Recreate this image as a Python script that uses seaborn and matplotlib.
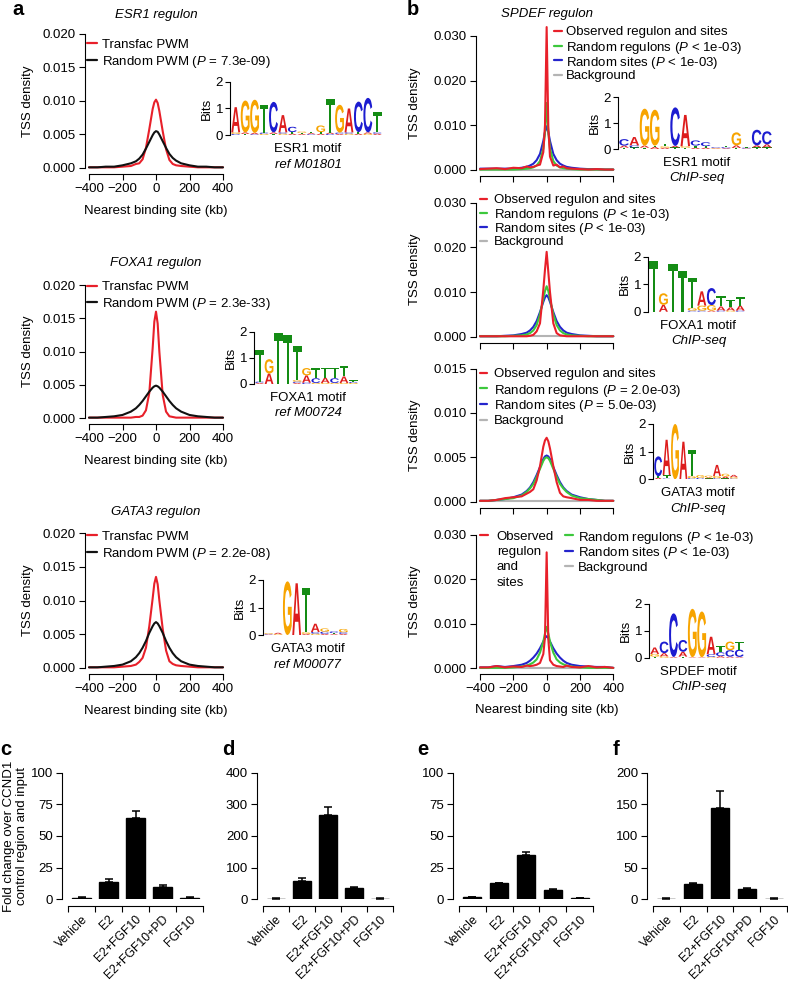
import numpy as np
import pandas as pd
import matplotlib
matplotlib.use('Agg')
import matplotlib.pyplot as plt
import seaborn as sns
from matplotlib.textpath import TextPath
from matplotlib.patches import PathPatch
from matplotlib.font_manager import FontProperties
from matplotlib.lines import Line2D
import matplotlib.transforms as mtransforms

sns.set_style('ticks')
FONT = 'Liberation Sans'
plt.rcParams['font.family'] = [FONT, 'DejaVu Sans']
plt.rcParams['mathtext.fontset'] = 'custom'
plt.rcParams['mathtext.rm'] = FONT
plt.rcParams['mathtext.it'] = FONT + ':italic'
plt.rcParams['font.size'] = 9.5
for k in ['text.color', 'axes.labelcolor', 'xtick.color', 'ytick.color', 'axes.edgecolor']:
    plt.rcParams[k] = 'black'
plt.rcParams['axes.linewidth'] = 0.8

# ---------------- data ----------------
KB = [-400, -350, -300, -250, -200, -150, -120, -100, -80, -60, -40, -20, -10, 0,
      10, 20, 40, 60, 80, 100, 120, 150, 200, 250, 300, 350, 400]

# panel a: Transfac PWM (red) vs Random PWM (black)
ESR1_TRANSFAC = [0.0001, 0.0001, 0.0001, 0.0001, 0.0002, 0.0003, 0.0006, 0.0007, 0.0013, 0.0030, 0.0058, 0.0088, 0.0098, 0.0102,
                 0.0097, 0.0085, 0.0055, 0.0028, 0.0012, 0.0006, 0.0004, 0.0003, 0.0002, 0.0001, 0.0001, 0.0001, 0.0001]
ESR1_RANDOM = [0.0001, 0.0001, 0.0002, 0.0002, 0.0004, 0.0007, 0.0010, 0.0014, 0.0020, 0.0029, 0.0039, 0.0049, 0.0053, 0.0055,
               0.0054, 0.0050, 0.0040, 0.0030, 0.0021, 0.0015, 0.0011, 0.0007, 0.0004, 0.0002, 0.0002, 0.0001, 0.0001]
FOXA1_TRANSFAC = [0.0001, 0.0001, 0.0001, 0.0001, 0.0001, 0.0001, 0.0002, 0.0002, 0.0004, 0.0012, 0.0038, 0.0105, 0.0145, 0.0160,
                  0.0142, 0.0100, 0.0035, 0.0010, 0.0003, 0.0002, 0.0001, 0.0001, 0.0001, 0.0001, 0.0001, 0.0001, 0.0001]
FOXA1_RANDOM = [0.0001, 0.0001, 0.0002, 0.0003, 0.0005, 0.0010, 0.0015, 0.0020, 0.0026, 0.0033, 0.0040, 0.0046, 0.0048, 0.0049,
                0.0048, 0.0046, 0.0040, 0.0033, 0.0026, 0.0020, 0.0015, 0.0010, 0.0005, 0.0003, 0.0002, 0.0001, 0.0001]
GATA3_TRANSFAC = [0.0001, 0.0001, 0.0001, 0.0001, 0.0002, 0.0003, 0.0005, 0.0009, 0.0015, 0.0030, 0.0062, 0.0103, 0.0125, 0.0135,
                  0.0124, 0.0100, 0.0058, 0.0026, 0.0010, 0.0006, 0.0004, 0.0003, 0.0002, 0.0001, 0.0001, 0.0001, 0.0001]
GATA3_RANDOM = [0.0001, 0.0001, 0.0002, 0.0003, 0.0005, 0.0010, 0.0016, 0.0022, 0.0030, 0.0040, 0.0052, 0.0062, 0.0066, 0.0068,
                0.0066, 0.0062, 0.0052, 0.0040, 0.0030, 0.0022, 0.0016, 0.0010, 0.0005, 0.0003, 0.0002, 0.0001, 0.0001]

# panel b: observed (red), random regulons (green), random sites (blue), background (gray)
B1_OBS = [0.0002, 0.0003, 0.0004, 0.0002, 0.0005, 0.0004, 0.0008, 0.0006, 0.0007, 0.0010, 0.0012, 0.0040, 0.0100, 0.0320,
          0.0095, 0.0030, 0.0010, 0.0012, 0.0006, 0.0008, 0.0004, 0.0003, 0.0002, 0.0001, 0.0002, 0.0001, 0.0001]
B1_REG = [0.0001, 0.0001, 0.0001, 0.0001, 0.0001, 0.0002, 0.0003, 0.0004, 0.0006, 0.0010, 0.0020, 0.0048, 0.0085, 0.0150,
          0.0085, 0.0048, 0.0020, 0.0010, 0.0006, 0.0004, 0.0003, 0.0002, 0.0001, 0.0001, 0.0001, 0.0001, 0.0001]
B1_SITES = [0.0003, 0.0003, 0.0003, 0.0003, 0.0003, 0.0005, 0.0007, 0.0010, 0.0014, 0.0022, 0.0036, 0.0065, 0.0085, 0.0098,
            0.0085, 0.0065, 0.0036, 0.0022, 0.0014, 0.0010, 0.0007, 0.0005, 0.0003, 0.0002, 0.0002, 0.0001, 0.0001]
B2_OBS = [0.0001, 0.0001, 0.0001, 0.0001, 0.0001, 0.0001, 0.0001, 0.0002, 0.0004, 0.0012, 0.0030, 0.0105, 0.0150, 0.0190,
          0.0145, 0.0100, 0.0030, 0.0008, 0.0003, 0.0002, 0.0001, 0.0001, 0.0001, 0.0001, 0.0001, 0.0001, 0.0001]
B2_REG = [0.0001, 0.0001, 0.0001, 0.0001, 0.0002, 0.0003, 0.0005, 0.0008, 0.0014, 0.0026, 0.0050, 0.0085, 0.0102, 0.0113,
          0.0102, 0.0085, 0.0050, 0.0026, 0.0014, 0.0008, 0.0005, 0.0003, 0.0002, 0.0001, 0.0001, 0.0001, 0.0001]
B2_SITES = [0.0001, 0.0001, 0.0001, 0.0002, 0.0003, 0.0006, 0.0009, 0.0014, 0.0022, 0.0035, 0.0055, 0.0078, 0.0088, 0.0093,
            0.0088, 0.0078, 0.0055, 0.0035, 0.0022, 0.0014, 0.0009, 0.0006, 0.0003, 0.0002, 0.0001, 0.0001, 0.0001]
B3_OBS = [0.0001, 0.0001, 0.0002, 0.0004, 0.0005, 0.0006, 0.0009, 0.0011, 0.0014, 0.0024, 0.0040, 0.0062, 0.0069, 0.0072,
          0.0068, 0.0060, 0.0040, 0.0022, 0.0010, 0.0006, 0.0005, 0.0004, 0.0002, 0.0002, 0.0001, 0.0001, 0.0001]
B3_REG = [0.0001, 0.0001, 0.0002, 0.0003, 0.0004, 0.0007, 0.0011, 0.0015, 0.0020, 0.0028, 0.0037, 0.0046, 0.0049, 0.0050,
          0.0049, 0.0046, 0.0037, 0.0028, 0.0020, 0.0015, 0.0011, 0.0007, 0.0004, 0.0003, 0.0002, 0.0001, 0.0001]
B3_SITES = [0.0001, 0.0001, 0.0002, 0.0003, 0.0005, 0.0008, 0.0012, 0.0016, 0.0022, 0.0030, 0.0039, 0.0048, 0.0051, 0.0052,
            0.0051, 0.0048, 0.0039, 0.0030, 0.0022, 0.0016, 0.0012, 0.0008, 0.0005, 0.0003, 0.0002, 0.0001, 0.0001]
B4_OBS = [0.0002, 0.0002, 0.0005, 0.0002, 0.0004, 0.0003, 0.0006, 0.0005, 0.0006, 0.0008, 0.0012, 0.0032, 0.0070, 0.0260,
          0.0065, 0.0018, 0.0008, 0.0005, 0.0004, 0.0003, 0.0006, 0.0003, 0.0002, 0.0005, 0.0002, 0.0003, 0.0001]
B4_REG = [0.0001, 0.0001, 0.0001, 0.0001, 0.0002, 0.0004, 0.0006, 0.0009, 0.0013, 0.0020, 0.0035, 0.0060, 0.0078, 0.0093,
          0.0078, 0.0060, 0.0035, 0.0020, 0.0013, 0.0009, 0.0006, 0.0004, 0.0002, 0.0001, 0.0001, 0.0001, 0.0001]
B4_SITES = [0.0002, 0.0002, 0.0005, 0.0003, 0.0005, 0.0008, 0.0012, 0.0017, 0.0024, 0.0033, 0.0045, 0.0060, 0.0068, 0.0072,
            0.0068, 0.0060, 0.0045, 0.0033, 0.0024, 0.0017, 0.0012, 0.0008, 0.0005, 0.0004, 0.0003, 0.0003, 0.0001]
BACKGROUND = [0.00005] * 27

# sequence logos: per position, (letter, bits) stacked bottom to top
LOGO_ESR1_REF = [
    [('C', .04), ('G', .06), ('A', .95)], [('T', .04), ('A', .06), ('G', 1.2)], [('C', .03), ('A', .05), ('G', 1.25)],
    [('G', .04), ('C', .05), ('T', 1.05)], [('T', .04), ('A', .06), ('C', 1.15)], [('G', .05), ('C', .05), ('A', .65)],
    [('A', .05), ('T', .06), ('C', .2)], [('A', .04), ('T', .04), ('G', .05)], [('C', .03), ('A', .04), ('T', .05)],
    [('A', .05), ('T', .06), ('G', .25)], [('C', .04), ('A', .05), ('T', 1.25)], [('A', .04), ('C', .05), ('G', 1.05)],
    [('G', .05), ('C', .05), ('A', .9)], [('A', .05), ('T', .06), ('C', 1.15)], [('G', .05), ('A', .05), ('C', 1.3)],
    [('A', .05), ('C', .05), ('T', .75)]]
LOGO_FOXA1_REF = [
    [('A', .04), ('C', .05), ('T', 1.2)], [('A', .4), ('G', .55)], [('T', 1.95)], [('T', 1.88)],
    [('A', .04), ('C', .05), ('G', .06), ('T', 1.3)], [('C', .05), ('A', .28), ('G', .28)],
    [('G', .04), ('C', .18), ('T', .38)], [('G', .04), ('A', .2), ('T', .38)], [('G', .04), ('C', .18), ('T', .4)],
    [('G', .04), ('A', .25), ('T', .38)], [('G', .04), ('C', .04), ('T', .06)]]
LOGO_GATA3_REF = [
    [('A', .02), ('C', .02), ('G', .03)], [('G', .03), ('A', .05)], [('G', 1.95)], [('A', 1.88)],
    [('A', .04), ('G', .06), ('T', 1.6)], [('G', .05), ('C', .06), ('A', .3)], [('A', .04), ('C', .08), ('G', .12)],
    [('A', .03), ('T', .04), ('C', .06)], [('A', .04), ('C', .06), ('G', .12)]]
LOGO_ESR1_CHIP = [
    [('T', .05), ('A', .08), ('C', .25)], [('T', .06), ('C', .08), ('A', .32)], [('T', .05), ('A', .08), ('G', 1.42)],
    [('A', .08), ('T', .05), ('G', 1.38)], [('A', .05), ('G', .05), ('T', .1)], [('T', .06), ('A', .06), ('C', 1.48)],
    [('T', .05), ('G', .06), ('A', 1.2)], [('A', .05), ('T', .08), ('C', .2)], [('A', .05), ('T', .06), ('C', .15)],
    [('A', .02), ('G', .02), ('C', .03)], [('A', .03), ('C', .04), ('T', .06)], [('T', .04), ('A', .1), ('G', .5)],
    [('A', .02), ('C', .03), ('T', .03)], [('T', .06), ('A', .08), ('C', .6)], [('T', .06), ('A', .12), ('C', .5)]]
LOGO_FOXA1_CHIP = [
    [('T', 1.85)], [('A', .25), ('G', .42)], [('T', 1.75)], [('T', 1.48)], [('C', .04), ('G', .1), ('T', 1.1)],
    [('C', .04), ('G', .18), ('A', .52)], [('A', .04), ('G', .2), ('C', .62)], [('C', .04), ('A', .15), ('T', .38)],
    [('G', .04), ('A', .12), ('T', .28)], [('C', .04), ('A', .18), ('T', .3)]]
LOGO_GATA3_CHIP = [
    [('A', .06), ('T', .05), ('C', .72)], [('C', .03), ('T', .12), ('A', 1.28)], [('G', 2.0)], [('A', 1.36)],
    [('C', .04), ('G', .08), ('T', .95)], [('C', .05), ('G', .1)], [('T', .03), ('A', .04), ('G', .06)],
    [('C', .04), ('G', .08), ('A', .4)], [('T', .03), ('A', .07), ('G', .1)], [('C', .03), ('G', .05), ('A', .08)]]
LOGO_SPDEF_CHIP = [
    [('T', .04), ('G', .1), ('A', .24)], [('G', .05), ('A', .12), ('C', .43)], [('A', .03), ('C', 1.62)],
    [('T', .04), ('A', .18), ('C', .44)], [('A', .02), ('G', 1.8)], [('A', .02), ('G', 1.7)],
    [('G', .03), ('C', .1), ('A', .65)], [('A', .06), ('C', .14), ('T', .22)], [('A', .04), ('C', .24), ('G', .32)],
    [('A', .03), ('C', .27), ('T', .3)]]

# bar charts c-f
CONDS = ['Vehicle', 'E2', 'E2+FGF10', 'E2+FGF10+PD', 'FGF10']
C_MEAN = [1.0, 14.0, 64.0, 10.0, 1.2]
C_ERR = [0.5, 1.9, 5.7, 1.1, 0.9]
D_MEAN = [2.0, 59.0, 266.0, 35.0, 2.0]
D_ERR = [1.0, 7.0, 27.0, 4.0, 1.0]
E_MEAN = [1.5, 12.6, 35.2, 7.0, 1.0]
E_ERR = [0.5, 0.5, 2.4, 1.5, 0.3]
F_MEAN = [1.0, 23.7, 144.5, 15.8, 1.0]
F_ERR = [0.5, 2.6, 26.0, 2.5, 0.5]

RED, BLACK, GREEN, BLUE, GRAY = '#e8202a', '#111111', '#3cc83c', '#2424cc', '#b4b4b4'
LOGO_COL = {'A': '#dd1c1c', 'C': '#1c1cd0', 'G': '#f7a400', 'T': '#148c14'}

# ---------------- layout helpers ----------------
W, H = 788, 985
fig = plt.figure(figsize=(W / 100, H / 100), dpi=100)


def fx(x):
    return x / W


def fy(y):
    return 1 - y / H


def axes_px(x0, x1, ybot, ytop):
    return fig.add_axes([fx(x0), fy(ybot), (x1 - x0) / W, (ybot - ytop) / H])


def ftext(x, y, s, **kw):
    kw.setdefault('va', 'center')
    kw.setdefault('ha', 'center')
    return fig.text(fx(x), fy(y), s, **kw)


def legend_row(xl0, xl1, xt, y, color, label):
    fig.add_artist(Line2D([fx(xl0), fx(xl1)], [fy(y), fy(y)], transform=fig.transFigure,
                          color=color, lw=1.6))
    ftext(xt, y, label, ha='left', va='center_baseline')


PX2PT = 0.72


def density_panel(x0, x1, y0, ytop_px, ytop, ylim_top, curves, colors, yticks, show_xlabels):
    pp = (y0 - ytop_px) / ytop
    ax = axes_px(x0, x1, y0, y0 - ylim_top * pp)
    frames = [pd.DataFrame({'kb': KB, 'density': vals, 'series': name}) for name, vals in curves]
    df = pd.concat(frames, ignore_index=True)
    order = [name for name, _ in curves]
    sns.lineplot(data=df, x='kb', y='density', hue='series', hue_order=order, palette=colors,
                 estimator=None, sort=False, legend=False, linewidth=1.5, ax=ax, clip_on=False)
    ax.set_xlim(-400, 400)
    ax.set_ylim(0, ylim_top)
    for s in ['top', 'right']:
        ax.spines[s].set_visible(False)
    ax.spines['left'].set_position(('outward', 4 * PX2PT))
    ax.spines['bottom'].set_position(('outward', 6 * PX2PT))
    ax.spines['left'].set_bounds(0, ytop)
    ax.spines['bottom'].set_bounds(-400, 400)
    ax.set_xticks([-400, -200, 0, 200, 400])
    if show_xlabels:
        ax.set_xticklabels(['\u2212400', '\u2212200', '0', '200', '400'])
    else:
        ax.set_xticklabels([])
    ax.set_yticks(yticks)
    ax.set_yticklabels(['%.3f' % t for t in yticks])
    ax.tick_params(axis='both', length=4.5, width=0.8, pad=2, labelsize=9.5)
    ax.set_xlabel('')
    ax.set_ylabel('')
    return ax


def draw_letter(ax, ch, x, y, w, h):
    fp = FontProperties(family=FONT, weight='bold')
    tp = TextPath((0, 0), ch, size=1, prop=fp)
    bb = tp.get_extents()
    tr = mtransforms.Affine2D().translate(-bb.x0, -bb.y0).scale(w / bb.width, h / bb.height).translate(x, y)
    ax.add_patch(PathPatch(tr.transform_path(tp), fc=LOGO_COL[ch], ec='none', lw=0))


def logo_panel(x_spine, x_end, y0, y2, stacks, label1, label2):
    n = len(stacks)
    ax = axes_px(x_spine + 1, x_end, y0, y2)
    ax.set_xlim(0, n)
    ax.set_ylim(0, 2)
    for i, stack in enumerate(stacks):
        base = 0.0
        for ch, h in stack:
            draw_letter(ax, ch, i + 0.03, base, 0.94, h)
            base += h
    for s in ['top', 'right', 'bottom']:
        ax.spines[s].set_visible(False)
    ax.spines['left'].set_position(('outward', 1 * PX2PT))
    ax.set_xticks([])
    ax.set_yticks([0, 1, 2])
    ax.set_yticklabels(['0', '1', '2'])
    ax.tick_params(axis='y', length=3.5, width=0.8, pad=1.5, labelsize=9.5)
    ax.set_ylabel('Bits', labelpad=2, fontsize=9.5)
    xc = (x_spine + x_end) / 2 + 2
    ftext(xc, y0 + 14, label1)
    ftext(xc, y0 + 29.5, label2, style='italic')
    return ax


def bar_panel(x0, x1, y0, ytop_px, ytop, yticks, means, errs):
    ax = axes_px(x0, x1, y0, ytop_px)
    df = pd.DataFrame({'cond': CONDS, 'value': means})
    sns.barplot(data=df, x='cond', y='value', color='black', width=0.67, errorbar=None,
                saturation=1, edgecolor='black', ax=ax)
    centers = [p.get_x() + p.get_width() / 2 for p in ax.patches]
    ax.errorbar(centers, means, yerr=[np.zeros(len(means)), errs], fmt='none', ecolor='black',
                elinewidth=1.1, capsize=3, capthick=1.1, zorder=3)
    ax.set_xlim(-0.5, 4.5)
    ax.set_ylim(0, ytop)
    for s in ['top', 'right']:
        ax.spines[s].set_visible(False)
    ax.spines['left'].set_position(('outward', 6 * PX2PT))
    ax.spines['bottom'].set_position(('outward', 7 * PX2PT))
    ax.spines['bottom'].set_bounds(-0.5, 4.5)
    ax.set_yticks(yticks)
    ax.set_yticklabels([str(t) for t in yticks])
    ax.set_xticks(range(len(CONDS)))
    ax.set_xticklabels(CONDS, rotation=45, ha='right', rotation_mode='anchor', va='top')
    ax.set_xticks(np.arange(-0.5, len(CONDS)), minor=True)
    ax.tick_params(axis='x', which='major', length=0, pad=5, labelsize=8.8)
    ax.tick_params(axis='x', which='minor', length=4.5, width=0.8)
    ax.tick_params(axis='y', length=4.5, width=0.8, pad=2, labelsize=9.5)
    ax.set_xlabel('')
    ax.set_ylabel('')
    return ax


A_COLORS = {'Transfac PWM': RED, 'Random PWM': BLACK}
B_COLORS = {'Background': GRAY, 'Random sites': BLUE, 'Random regulons': GREEN, 'Observed': RED}
A_TICKS = [0, 0.005, 0.010, 0.015, 0.020]

# ---------------- panel a ----------------
a_specs = [
    (168, 34, 'ESR1 regulon', 15, ESR1_TRANSFAC, ESR1_RANDOM, '7.3e-09', 43, 60,
     LOGO_ESR1_REF, 230, 382, 135, 82, 'ESR1 motif', 'ref M01801'),
    (418.3, 285, 'FOXA1 regulon', 263, FOXA1_TRANSFAC, FOXA1_RANDOM, '2.3e-33', 285.7, 301.7,
     LOGO_FOXA1_REF, 254, 358, 384, 331.7, 'FOXA1 motif', 'ref M00724'),
    (668, 533, 'GATA3 regulon', 512, GATA3_TRANSFAC, GATA3_RANDOM, '2.2e-08', 535, 551.7,
     LOGO_GATA3_REF, 263, 348, 635, 580, 'GATA3 motif', 'ref M00077'),
]
for (y0, y20, title, ytitle, red, black, pval, r1, r2, logo, lx0, lx1, ly0, ly2, l1, l2) in a_specs:
    density_panel(89, 223, y0, y20, 0.020, 0.0205,
                  [('Transfac PWM', red), ('Random PWM', black)], A_COLORS, A_TICKS, True)
    ftext(156, ytitle, title, style='italic')
    ftext(28, (y0 + y20) / 2, 'TSS density', rotation=90)
    ftext(156, y0 + 43, 'Nearest binding site (kb)')
    legend_row(87, 97, 101.7, r1, RED, 'Transfac PWM')
    legend_row(87, 97, 101.7, r2, BLACK, 'Random PWM ($P$ = %s)' % pval)
    logo_panel(lx0, lx1, ly0, ly2, logo, l1, l2)

# ---------------- panel b ----------------
TICKS_030 = [0, 0.010, 0.020, 0.030]
TICKS_015 = [0, 0.005, 0.010, 0.015]
b_specs = [
    (170, 36, 0.030, 0.0335, TICKS_030, B1_OBS, B1_REG, B1_SITES, LOGO_ESR1_CHIP, 618, 772, 149, 97, 'ESR1 motif'),
    (336.7, 202.7, 0.030, 0.031, TICKS_030, B2_OBS, B2_REG, B2_SITES, LOGO_FOXA1_CHIP, 648, 745, 311.7, 256.7, 'FOXA1 motif'),
    (501.7, 368.5, 0.015, 0.0155, TICKS_015, B3_OBS, B3_REG, B3_SITES, LOGO_GATA3_CHIP, 653, 738, 479.3, 424, 'GATA3 motif'),
    (668.3, 534.5, 0.030, 0.031, TICKS_030, B4_OBS, B4_REG, B4_SITES, LOGO_SPDEF_CHIP, 649, 744, 657.7, 604, 'SPDEF motif'),
]
for i, (y0, ytp, yt, ylt, ticks, obs, reg, sites, logo, lx0, lx1, ly0, ly2, l1) in enumerate(b_specs):
    density_panel(480, 613.3, y0, ytp, yt, ylt,
                  [('Background', BACKGROUND), ('Random sites', sites), ('Random regulons', reg), ('Observed', obs)],
                  B_COLORS, ticks, i == 3)
    ftext(415, (y0 + ytp) / 2, 'TSS density', rotation=90)
    logo_panel(lx0, lx1, ly0, ly2, logo, l1, 'ChIP-seq')

ftext(547, 14, 'SPDEF regulon', style='italic')
ftext(547, 710, 'Nearest binding site (kb)')

legend_row(554, 562, 565.7, 31, RED, 'Observed regulon and sites')
legend_row(554, 562, 565.7, 45.7, GREEN, 'Random regulons ($P$ < 1e-03)')
legend_row(554, 562, 565.7, 60.4, BLUE, 'Random sites ($P$ < 1e-03)')
legend_row(554, 562, 565.7, 75, GRAY, 'Background')

legend_row(479.5, 487.5, 494, 199, RED, 'Observed regulon and sites')
legend_row(479.5, 487.5, 494, 212.5, GREEN, 'Random regulons ($P$ < 1e-03)')
legend_row(479.5, 487.5, 494, 226.7, BLUE, 'Random sites ($P$ < 1e-03)')
legend_row(479.5, 487.5, 494, 240.7, GRAY, 'Background')

legend_row(479.5, 487.5, 494, 372.7, RED, 'Observed regulon and sites')
legend_row(479.5, 487.5, 494, 388.3, GREEN, 'Random regulons ($P$ = 2.0e-03)')
legend_row(479.5, 487.5, 494, 403.7, BLUE, 'Random sites ($P$ = 5.0e-03)')
legend_row(479.5, 487.5, 494, 419.5, GRAY, 'Background')

legend_row(479.5, 488, 496.7, 535, RED, 'Observed')
for yy, txt in [(550.7, 'regulon'), (566, 'and'), (581.7, 'sites')]:
    ftext(496.7, yy, txt, ha='left', va='center_baseline')
legend_row(565, 573, 578.3, 535, GREEN, 'Random regulons ($P$ < 1e-03)')
legend_row(565, 573, 578.3, 550.7, BLUE, 'Random sites ($P$ < 1e-03)')
legend_row(565, 573, 578.3, 566, GRAY, 'Background')

# ---------------- panels c-f ----------------
bar_panel(68, 203, 899.3, 772.7, 100, [0, 25, 50, 75, 100], C_MEAN, C_ERR)
bar_panel(263, 393, 899.3, 772.7, 400, [0, 100, 200, 300, 400], D_MEAN, D_ERR)
bar_panel(459, 593, 899.3, 772.7, 100, [0, 25, 50, 75, 100], E_MEAN, E_ERR)
bar_panel(653, 787, 899.3, 772.7, 200, [0, 50, 100, 150, 200], F_MEAN, F_ERR)
ftext(15.5, 836, 'Fold change over CCND1\ncontrol region and input', rotation=90, linespacing=1.2)

# panel letters
for lab, x, y in [('a', 12, 15), ('b', 407, 15), ('c', 0.5, 755), ('d', 222, 755), ('e', 417, 755), ('f', 613, 755)]:
    fig.text(fx(x), fy(y), lab, fontsize=14.5, fontweight='bold', ha='left', va='baseline')

fig.savefig('out.png', dpi=100)
